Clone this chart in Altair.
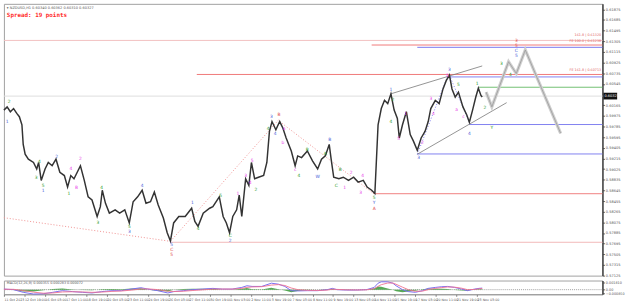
import altair as alt
import pandas as pd

# ---------------- price path (bar index, close) ----------------
bars = [0,5,10,15,20,24,28,30,33,38,
        46,51,54,58,64,69,75,81,87,94,
        99,104,109,119,125,131,137,145,150,153,
        158,164,173,180,188,195,201,208,215,221,
        228,234,240,248,254,259,264,272,282,292,
        297,302,310,320,325,335,341,346,351,356,
        362,366,370,376,381,385,390,396,404,409,
        413,417,423,429,434,439,447,453,457,463,
        472,480,488,494,500,506,509,513,521,528,
        536,544,551,559,565,572,577,582,587,592,
        597,602,607,612,615,620,626,632,637,643,
        649,655,660,664,671,677,683,688,693,697,
        702,707,714,720,724,729,734,738,742,744]
prices = [0.60077,0.60135,0.60048,0.60105,0.60018,0.59960,0.59815,0.59465,0.59290,0.59202,
          0.59143,0.59027,0.59143,0.58823,0.59027,0.59143,0.59085,0.59202,0.58968,0.58910,
          0.58705,0.58910,0.58852,0.59085,0.58823,0.58530,0.58473,0.58180,0.58355,0.58648,
          0.58415,0.58240,0.58298,0.58240,0.58298,0.58065,0.58443,0.58530,0.58648,0.58415,
          0.58443,0.58618,0.58385,0.58152,0.57890,0.57743,0.58065,0.58180,0.58180,0.58327,
          0.58093,0.58005,0.58240,0.58327,0.58355,0.58530,0.58180,0.58065,0.57890,0.58180,
          0.58298,0.58560,0.58180,0.58852,0.58735,0.59143,0.58852,0.58880,0.58910,0.59143,
          0.59698,0.59873,0.59727,0.59873,0.59755,0.59580,0.59348,0.59085,0.59260,0.59230,
          0.59348,0.59173,0.59027,0.59202,0.59260,0.59465,0.59202,0.58880,0.58852,0.58880,
          0.58823,0.58880,0.58793,0.58823,0.58705,0.58648,0.58590,0.59815,0.60105,0.60252,
          0.60193,0.60368,0.60077,0.59930,0.59580,0.59815,0.60048,0.59640,0.59523,0.59360,
          0.59580,0.59698,0.59873,0.60105,0.60252,0.60193,0.60455,0.60602,0.60700,0.60455,
          0.60310,0.60398,0.60135,0.59990,0.59860,0.60077,0.60310,0.60468,0.60340,0.60310]

# projected path
proj_bars = [750, 759, 785, 797, 811, 866]
proj_prices = [0.60398, 0.60135, 0.60940, 0.60730, 0.61150, 0.59663]

current_price = 0.60327

# horizontal levels: start bar, price, colour
level_start = [0, 572, 643, 300, 693, 739, 0, 724, 643, 577, 259]
level_price = [0.61320, 0.61238, 0.61197, 0.60713, 0.60669, 0.60485, 0.60327,
               0.59820, 0.59295, 0.58586, 0.57720]
level_color = ['#f2c0c0', '#f07878', '#7878f0', '#f07878', '#8080f0', '#70c070',
               '#dddddd', '#8080f0', '#8080f0', '#f08080', '#f2b8b8']

level_text = ['161.8 | 0.61320', 'FE 100.0 | 0.61238', 'FE 161.8 | 0.60713']
level_text_price = [0.61378, 0.61273, 0.60765]

# trend lines
red_dot = [(0, 0.58158, 259, 0.57737), (259, 0.57737, 429, 0.59925), (429, 0.59873, 577, 0.58572)]
blue_dot = [(643, 0.59290, 690, 0.60677), (693, 0.60700, 724, 0.59860)]
gray_ch = [(602, 0.60368, 744, 0.60865), (643, 0.59290, 782, 0.60210)]

# wave labels
G, B, M, R = '#2e9b2e', '#4a5fd8', '#e83ee8', '#e04848'
waves = [(8,0.60222,'2',G),(5,0.59872,'1',B),(50,0.58858,'3',G),(55,0.59157,'4',G),
         (61,0.58717,'5',G),(61,0.58630,'1',B),(82,0.59243,'2',B),(104,0.59033,'4',M),
         (113,0.58688,'B',M),(101,0.58578,'1',G),(119,0.59208,'2',M),(146,0.58070,'3',G),
         (152,0.58683,'4',G),(195,0.58000,'5',G),(195,0.57895,'3',B),(215,0.58718,'4',B),
         (261,0.57668,'5',B),(261,0.57580,'C',R),(261,0.57493,'5',R),(293,0.58420,'1',B),
         (302,0.57965,'4',G),(337,0.58543,'5',G),(352,0.57825,'C',G),(352,0.57738,'2',B),
         (364,0.58578,'1',M),(376,0.58910,'3',M),(383,0.58770,'4',M),(386,0.59173,'5',M),
         (392,0.58648,'2',G),(411,0.59732,'4',G),(416,0.59960,'3',B),(428,0.59995,'B',R),
         (422,0.59645,'4',B),(436,0.59732,'a',M),(434,0.59488,'b',M),(453,0.59015,'c',M),
         (459,0.58893,'4',G),(472,0.59365,'B',G),(488,0.58875,'W',B),(507,0.59540,'B',B),
         (500,0.59295,'A',G),(523,0.59015,'B',G),(517,0.58718,'C',G),(530,0.58683,'1',M),
         (540,0.58963,'2',M),(555,0.58595,'3',M),(558,0.58893,'4',M),(576,0.58508,'5',G),
         (576,0.58420,'Y',B),(576,0.58315,'A',R),(602,0.60433,'1',B),(605,0.60258,'2',G),
         (602,0.59873,'4',G),(614,0.59558,'5',M),(625,0.60013,'1',M),(645,0.59225,'3',B),
         (651,0.59488,'2',M),(664,0.60275,'3',M),(668,0.60013,'4',M),(690,0.60677,'5',M),
         (693,0.60800,'3',B),(707,0.60520,'5',G),(704,0.60083,'a',M),(715,0.59960,'c',M),
         (724,0.59645,'4',B),(736,0.60538,'1',G),(748,0.60118,'2',G),(774,0.60905,'3',G),
         (788,0.60695,'4',G),(797,0.61045,'5',B),(797,0.61307,'3',R),(797,0.61220,'5',R),
         (797,0.61132,'C',B),(759,0.59750,'Y',G)]

# price axis ticks
price_ticks = [0.57125,0.57315,0.57505,0.57695,0.57885,0.58075,0.58265,0.58455,0.58645,
               0.58835,0.59025,0.59215,0.59405,0.59595,0.59785,0.59975,0.60165,
               0.60545,0.60735,0.60925,0.61115,0.61305,0.61495,0.61685,0.61875]

# time axis
time_labels = ['11 Oct 2023','12 Oct 19:00','16 Oct 03:00','17 Oct 11:00','18 Oct 19:00',
               '20 Oct 03:00','23 Oct 11:00','24 Oct 19:00','26 Oct 03:00','27 Oct 11:00',
               '30 Oct 19:00','1 Nov 03:00','2 Nov 11:00','3 Nov 19:00','7 Nov 03:00',
               '8 Nov 11:00','9 Nov 19:00','13 Nov 03:00','14 Nov 11:00','15 Nov 19:00',
               '17 Nov 03:00','20 Nov 11:00','21 Nov 19:00','23 Nov 03:00']
time_ticks = [i * 32 for i in range(len(time_labels))]

# MACD
macd_bars = [0,15,30,46,61,76,91,107,122,137,152,168,183,198,213,224,239,255,264,279,
             294,309,325,340,355,370,378,386,401,416,427,437,447,457,472,488,503,511,518,533,
             549,564,576,582,587,597,605,610,620,629,640,651,660,671,681,690,701,712,721,732,
             739,744]
macd_main = [0.00014,0.0,-0.00064,-0.00105,-0.00100,-0.00064,-0.00024,-0.00047,-0.00064,-0.00080,
             -0.00047,-0.00024,-0.00024,0.00014,0.00047,0.00014,-0.00024,-0.00080,-0.00047,-0.00024,
             0.0,0.00014,0.00031,0.00014,0.00014,0.00054,0.00094,0.00078,0.00078,0.00156,
             0.00132,0.00078,-0.00024,-0.00030,-0.00024,-0.00024,0.0,0.00031,0.0,-0.0001,
             -0.0001,0.0,0.00054,0.00156,0.00189,0.00189,0.00156,0.00094,0.0,-0.00047,
             -0.00064,-0.00024,0.00031,0.00054,0.00071,0.00078,0.00054,0.00014,-0.00024,0.00014,
             0.00031,0.00038]
macd_signal = [0.0001,0.00008,-0.0002,-0.0006,-0.00085,-0.0008,-0.00055,-0.0005,-0.00055,-0.00065,
               -0.00058,-0.00042,-0.00032,-0.00012,0.00015,0.00018,0.00002,-0.00035,-0.00045,-0.00038,
               -0.0002,-0.00005,0.00012,0.00015,0.00014,0.0003,0.00055,0.00066,0.00072,0.0011,
               0.00122,0.001,0.0004,0.0,-0.00015,-0.0002,-0.0001,0.0001,0.00006,-0.00004,
               -0.00008,-0.00004,0.00022,0.0008,0.0012,0.0016,0.0016,0.0013,0.0006,0.0,
               -0.0004,-0.00035,0.0,0.0003,0.0005,0.00065,0.0006,0.00035,0.0,0.00005,
               0.0002,0.00028]
macd_hist = [0.00004,-0.00008,-0.00044,-0.00045,-0.00015,0.00016,0.00031,0.00003,-0.00009,-0.00015,
             0.00011,0.00018,0.00008,0.00026,0.00032,-0.00004,-0.00026,-0.00045,-0.00002,0.00014,
             0.0002,0.00019,0.00019,-0.00001,0.0,0.00024,0.00039,0.00012,0.00006,0.00046,
             0.0001,-0.00022,-0.00064,-0.0003,-0.00009,-0.00004,0.0001,0.00021,-0.00006,-0.00006,
             -0.00002,0.00004,0.00032,0.00076,0.00069,0.00029,-0.00004,-0.00036,-0.0006,-0.00047,
             -0.00024,0.00011,0.00031,0.00024,0.00021,0.00013,-0.00006,-0.00021,-0.00024,0.00009,
             0.00011,0.0001]

# ---------------- chart ----------------
XMAX = 931
W = 610
FONT = 'DejaVu Sans'
xs = alt.Scale(domain=[0, XMAX], nice=False, zero=False)
ys = alt.Scale(domain=[0.57125, 0.619725], nice=False, zero=False)
ms = alt.Scale(domain=[-0.00111, 0.00220], nice=False, zero=False)

yaxis = alt.Axis(orient='right', values=price_ticks, labelExpr="format(datum.value, '.5f')",
                 labelFontSize=3.6, labelFont=FONT, labelColor='#555', tickSize=2,
                 tickColor='#555', domainColor='#444', domainWidth=1.5, labelPadding=1,
                 labelOverlap=False, grid=False, title=None)
maxis = alt.Axis(orient='right', values=[0.00181, 0.0, -0.00085],
                 labelExpr="datum.value == 0 ? '0.00' : format(datum.value, '.6f')",
                 labelFontSize=3.4, labelFont=FONT, labelColor='#555', tickSize=2,
                 tickColor='#555', domainColor='#444', domainWidth=1.5, labelPadding=1,
                 labelOverlap=False, grid=False, title=None)
xaxis = alt.Axis(values=time_ticks,
                 labelExpr='[' + ','.join("'%s'" % s for s in time_labels) + '][floor(datum.value / 32)]',
                 labelAlign='left', labelFontSize=3.3, labelFont=FONT, labelColor='#555',
                 tickSize=2, tickColor='#777', domainColor='#999', labelPadding=1,
                 labelOverlap=False, grid=False, title=None, labelBound=False)

X = lambda f: alt.X(f, scale=xs, axis=None)
Y = lambda f: alt.Y(f, scale=ys, axis=yaxis)
MX = lambda f: alt.X(f, scale=xs, axis=xaxis)
MY = lambda f: alt.Y(f, scale=ms, axis=maxis)

price_df = pd.DataFrame({'bar': bars, 'price': prices})
proj_df = pd.DataFrame({'bar': proj_bars, 'price': proj_prices})
lev_df = pd.DataFrame({'start': level_start, 'end': [XMAX] * len(level_start),
                       'price': level_price, 'color': level_color})
levtxt_df = pd.DataFrame({'bar': [XMAX - 2] * 3, 'price': level_text_price, 't': level_text})


def seg_df(segs):
    return pd.DataFrame({'b1': [s[0] for s in segs], 'p1': [s[1] for s in segs],
                         'b2': [s[2] for s in segs], 'p2': [s[3] for s in segs]})


wave_df = pd.DataFrame({'bar': [w[0] for w in waves], 'price': [w[1] for w in waves],
                        't': [w[2] for w in waves], 'c': [w[3] for w in waves]})

levels = alt.Chart(lev_df).mark_rule(strokeWidth=1).encode(
    x=X('start:Q'), x2='end:Q', y=Y('price:Q'), color=alt.Color('color:N', scale=None))

levtxt = alt.Chart(levtxt_df).mark_text(align='right', baseline='bottom', fontSize=3.4,
                                         font=FONT, color='#e06060').encode(
    x=X('bar:Q'), y=Y('price:Q'), text='t:N')


def segs(df, color, dash, width):
    kw = dict(color=color, strokeWidth=width)
    if dash:
        kw['strokeDash'] = dash
    return alt.Chart(df).mark_rule(**kw).encode(x=X('b1:Q'), x2='b2:Q', y=Y('p1:Q'), y2='p2:Q')


red_layer = segs(seg_df(red_dot), '#f09090', [1, 2], 1)
blue_layer = segs(seg_df(blue_dot), '#8080f0', [1, 2], 1)
gray_layer = segs(seg_df(gray_ch), '#777777', None, 0.8)

price_line = alt.Chart(price_df).mark_line(color='#333333', strokeWidth=1.5).encode(
    x=X('bar:Q'), y=Y('price:Q'))

proj_shadow = alt.Chart(proj_df).mark_line(color='#cfcfcf', strokeWidth=3.2).encode(
    x=X('bar:Q'), y=Y('price:Q'))
proj_line = alt.Chart(proj_df).mark_line(color='#9a9a9a', strokeWidth=0.8).encode(
    x=X('bar:Q'), y=Y('price:Q'))

wave_txt = alt.Chart(wave_df).mark_text(fontSize=4.5, font=FONT).encode(
    x=X('bar:Q'), y=Y('price:Q'), text='t:N', color=alt.Color('c:N', scale=None))

cur_df = pd.DataFrame({'p': [current_price], 't': [format(current_price, '.5f')]})
cur_box = alt.Chart(cur_df).transform_calculate(hi='datum.p + 0.0006', lo='datum.p - 0.0006').mark_rect(
    color='#111111').encode(x=alt.value(W + 1), x2=alt.value(W + 15), y=Y('hi:Q'), y2='lo:Q')
cur_txt = alt.Chart(cur_df).mark_text(align='left', fontSize=3.6, font=FONT, color='white').encode(
    x=alt.value(W + 2), y=Y('p:Q'), text='t:N')

hdr1 = alt.Chart(pd.DataFrame({'t': ['\u25be NZDUSD,H1  0.60340 0.60362 0.60310 0.60327']})).mark_text(
    align='left', baseline='middle', fontSize=3.6, font=FONT, color='#555').encode(
    x=alt.value(3), y=alt.value(4), text='t:N')
hdr2 = alt.Chart(pd.DataFrame({'t': ['Spread: 19 points']})).mark_text(
    align='left', baseline='middle', fontSize=6, font='DejaVu Sans Mono', fontWeight='bold',
    color='#ff2a2a').encode(x=alt.value(3), y=alt.value(11), text='t:N')

main = alt.layer(levels, levtxt, red_layer, blue_layer, gray_layer, proj_shadow, proj_line,
                 price_line, wave_txt, cur_box, cur_txt, hdr1, hdr2).properties(width=W, height=277)

# MACD panel
macd_df = pd.DataFrame({'bar': macd_bars, 'macd': macd_main, 'sig': macd_signal, 'hist': macd_hist})

hist = alt.Chart(macd_df).mark_area(color='#3a9a3a', opacity=0.85).encode(
    x=MX('bar:Q'), y=MY('hist:Q'))
zero = alt.Chart(pd.DataFrame({'z': [0.0]})).mark_rule(color='#888', strokeDash=[1, 1], strokeWidth=0.8).encode(
    y=MY('z:Q'))
mline = alt.Chart(macd_df).mark_line(color='#7b6cf0', strokeWidth=1).encode(
    x=MX('bar:Q'), y=MY('macd:Q'))
sline = alt.Chart(macd_df).mark_line(color='#f07090', strokeWidth=0.9).encode(
    x=MX('bar:Q'), y=MY('sig:Q'))
mtitle = alt.Chart(pd.DataFrame({'t': ['MACD(12,26,9) 0.000355 0.000283 0.000072']})).mark_text(
    align='left', baseline='middle', fontSize=3.4, font=FONT, color='#555').encode(
    x=alt.value(3), y=alt.value(2.5), text='t:N')

macd = alt.layer(zero, hist, mline, sline, mtitle).properties(width=W, height=14)

chart = alt.vconcat(main, macd, spacing=0).properties(
    padding={'left': 0, 'top': 0, 'right': 0, 'bottom': 0}, background='white'
).configure_view(stroke='#a0a0a0', strokeWidth=1)

chart.save('out.html', embed_options={'renderer': 'svg', 'actions': False})
